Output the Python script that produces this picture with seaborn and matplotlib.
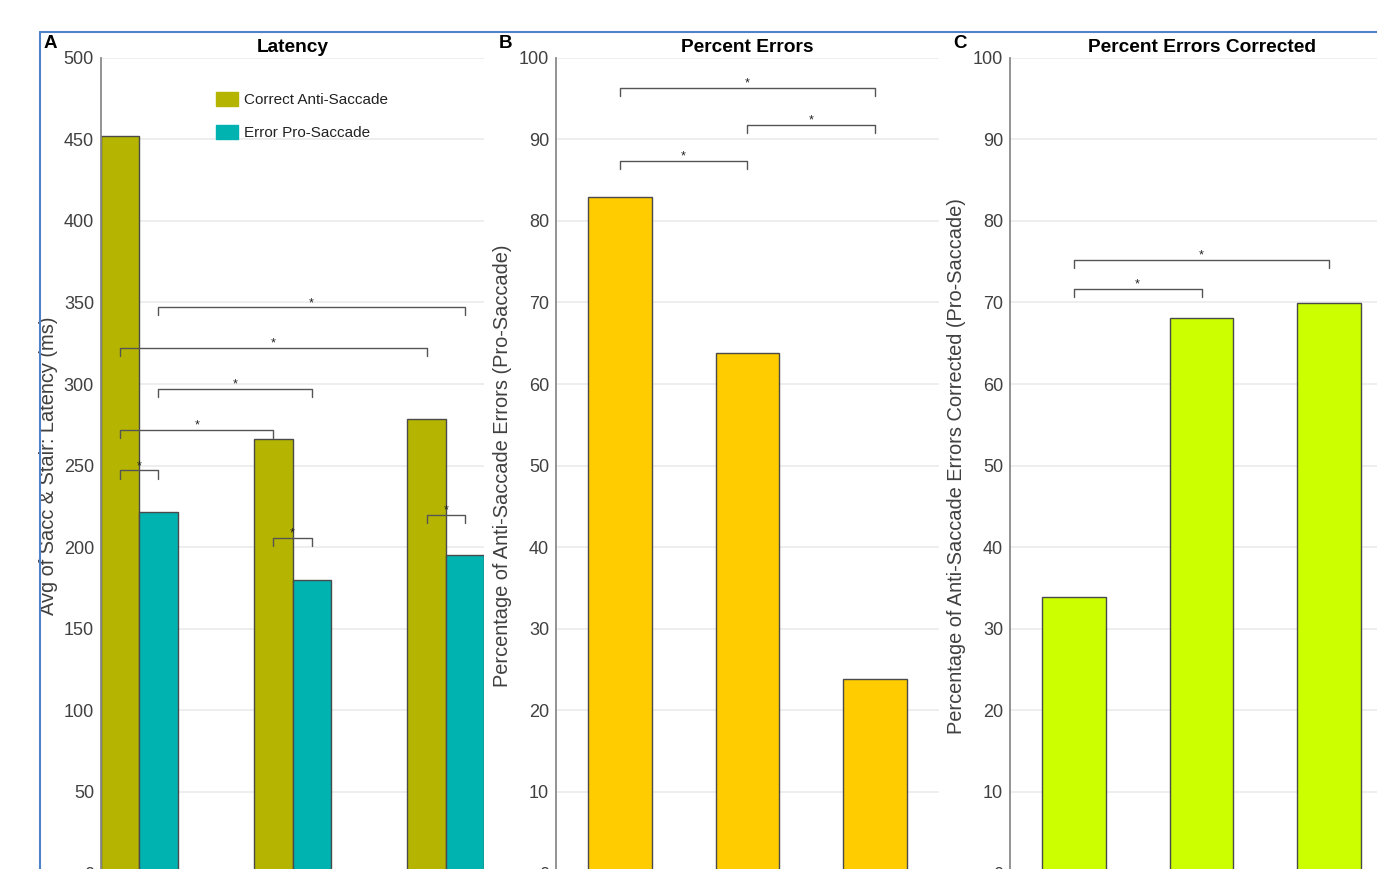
import pandas as pd
import matplotlib.pyplot as plt
from matplotlib.lines import Line2D
import seaborn as sns

# ---------------------- data -------------------------------------------
groups = ['Group 1', 'Group 2', 'Group 3']

latency_types = ['Correct Anti-Saccade', 'Error Pro-Saccade']
latency_correct_anti = [452, 266.5, 278.5]
latency_error_pro = [221.5, 180, 195]

pct_errors = [82.9, 63.8, 23.9]
pct_errors_corrected = [33.9, 68.1, 69.9]

# significance brackets: (bar a, bar b, level)
# panel A bars are indexed (group, hue) with hue 0 = correct, 1 = error
latency_sig = [((0, 0), (0, 1), 247), ((0, 0), (1, 0), 272),
               ((0, 1), (1, 1), 297), ((0, 0), (2, 0), 322),
               ((0, 1), (2, 1), 347), ((1, 0), (1, 1), 205.5),
               ((2, 0), (2, 1), 220)]
errors_sig = [(0, 2, 96.3), (1, 2, 91.8), (0, 1, 87.3)]
corrected_sig = [(0, 2, 75.2), (0, 1, 71.7)]

colors_latency = ['#b5b400', '#00b2b0']
color_errors = '#ffcc00'
color_corrected = '#ccff00'

# ---------------------- styling ---------------------------------------
sns.set_theme(style='white')
plt.rcParams['font.family'] = ['Liberation Sans', 'DejaVu Sans']

W, H = 1377, 869
fig = plt.figure(figsize=(W / 100, H / 100), dpi=100)

ax_bottom = (H - 873.5) / H
ax_height = (873.5 - 57.7) / H
ax_width = 383 / W

ax_a = fig.add_axes([101 / W, ax_bottom, ax_width, ax_height])
ax_b = fig.add_axes([556 / W, ax_bottom, ax_width, ax_height])
ax_c = fig.add_axes([1010 / W, ax_bottom, ax_width, ax_height])

edge = '#4a4a4a'
text_grey = '#404040'


def style_axis(ax, ymax, step, xlim):
    ax.set_ylim(0, ymax)
    ax.set_xlim(*xlim)
    ax.set_yticks(range(0, ymax + 1, step))
    ax.yaxis.grid(True, color='#ebebeb', linewidth=1.2)
    ax.set_axisbelow(True)
    for side in ['top', 'right', 'bottom']:
        ax.spines[side].set_visible(False)
    ax.spines['left'].set_color('#8a8a8a')
    ax.spines['left'].set_linewidth(1.3)
    ax.tick_params(axis='y', direction='in', length=6, width=1,
                   color='#8a8a8a', labelsize=13, labelcolor=text_grey, pad=5)
    ax.set_xticks([])
    ax.set_xlabel('')


def bracket(ax, x1, x2, level, drop):
    ax.plot([x1, x1, x2, x2], [level - drop, level, level, level - drop],
            color='#555555', linewidth=1)
    ax.annotate('*', xy=((x1 + x2) / 2, level), xytext=(0, 1),
                textcoords='offset points', ha='center', va='baseline',
                fontsize=9, color='#222222')


# ---------------------- A: latency ------------------------------------
latency = pd.DataFrame({
    'group': groups * 2,
    'type': [latency_types[0]] * 3 + [latency_types[1]] * 3,
    'latency': latency_correct_anti + latency_error_pro,
})
sns.barplot(data=latency, x='group', y='latency', hue='type', order=groups,
            hue_order=latency_types, palette=colors_latency, width=0.5,
            saturation=1, errorbar=None, edgecolor=edge, linewidth=1, ax=ax_a)
style_axis(ax_a, 500, 50, (-0.25, 2.25))
ax_a.set_ylabel('Avg of Sacc & Stair: Latency (ms)', fontsize=14.4, color=text_grey)
ax_a.yaxis.set_label_coords(-0.112, 0.5)

handles, labels = ax_a.get_legend_handles_labels()
leg = ax_a.legend(handles, labels, frameon=False, loc='upper left',
                  bbox_to_anchor=(0.30, 0.958), borderpad=0, borderaxespad=0,
                  handlelength=1.45, handleheight=1.0, handletextpad=0.4,
                  labelspacing=1.2, fontsize=11, labelcolor='#222222')
for patch, col in zip(leg.get_patches(), colors_latency):
    patch.set_edgecolor(col)

for (ga, ha), (gb, hb), level in latency_sig:
    xa = ga + (ha - 0.5) * 0.25
    xb = gb + (hb - 0.5) * 0.25
    bracket(ax_a, xa, xb, level, 5)

# ---------------------- B: percent errors -----------------------------
sns.barplot(x=groups, y=pct_errors, color=color_errors, width=0.5,
            saturation=1, errorbar=None, edgecolor=edge, linewidth=1, ax=ax_b)
style_axis(ax_b, 100, 10, (-0.5, 2.5))
ax_b.set_ylabel('Percentage of Anti-Saccade Errors (Pro-Saccade)',
                fontsize=14.4, color=text_grey)
ax_b.yaxis.set_label_coords(-0.115, 0.5)
for a, b, level in errors_sig:
    bracket(ax_b, a, b, level, 1)

# ---------------------- C: percent errors corrected -------------------
sns.barplot(x=groups, y=pct_errors_corrected, color=color_corrected, width=0.5,
            saturation=1, errorbar=None, edgecolor=edge, linewidth=1, ax=ax_c)
style_axis(ax_c, 100, 10, (-0.5, 2.5))
ax_c.set_ylabel('Percentage of Anti-Saccade Errors Corrected (Pro-Saccade)',
                fontsize=14.4, color=text_grey)
ax_c.yaxis.set_label_coords(-0.115, 0.5)
for a, b, level in corrected_sig:
    bracket(ax_c, a, b, level, 1)

# titles and panel letters
for ax, title in [(ax_a, 'Latency'), (ax_b, 'Percent Errors'),
                  (ax_c, 'Percent Errors Corrected')]:
    ax.text(0.5, 1.007, title, transform=ax.transAxes, ha='center',
            va='baseline', fontsize=13.8, fontweight='bold', color='black')

for x, letter in [(44, 'A'), (499, 'B'), (953, 'C')]:
    fig.text(x / W, 1 - 48 / H, letter, ha='left', va='baseline',
             fontsize=13.5, fontweight='bold', color='black')

# blue frame around the figure
frame_col = '#4f82c9'
fig.add_artist(Line2D([40 / W, 1], [1 - 32 / H] * 2, transform=fig.transFigure,
                      color=frame_col, linewidth=1.5))
fig.add_artist(Line2D([40 / W] * 2, [0, 1 - 32 / H], transform=fig.transFigure,
                      color=frame_col, linewidth=1.5))

fig.savefig('out.png', dpi=100)
